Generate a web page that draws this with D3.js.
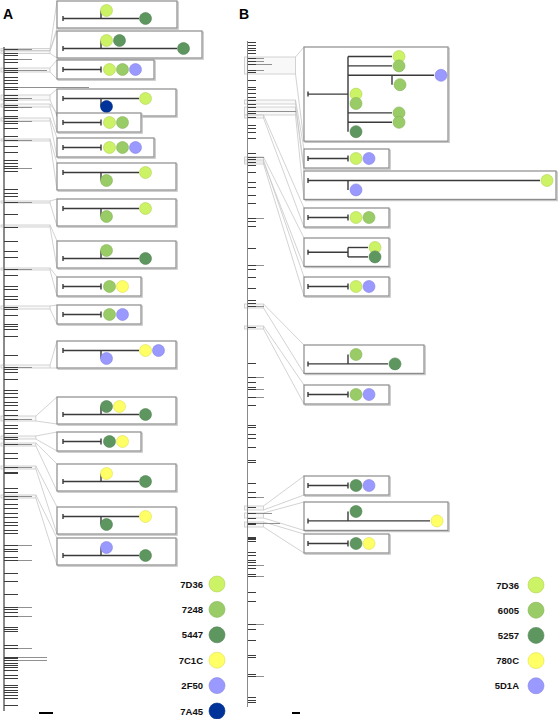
<!DOCTYPE html>
<html><head><meta charset="utf-8">
<script src="https://cdn.jsdelivr.net/npm/d3@7"></script>
<style>body{margin:0;background:#fff} svg{display:block;font-family:"Liberation Sans",Arial,sans-serif}</style>
</head><body><svg id="c" width="560" height="719"></svg>
<script>
// ---------- DATA ----------
const keysA = ['7D36','7248','5447','7C1C','2F50','7A45'];
const paletteA = ['#ccf266','#99cc66','#5e9660','#ffff66','#9999ff','#003399'];
const keysB = ['7D36','6005','5257','780C','5D1A'];
const paletteB = ['#ccf266','#99cc66','#5e9660','#ffff66','#9999ff'];

// tree tips: [leaf position along tree, branch length]
const tipsA = [[2,.04],[6,.02],[8,.02],[12,.04],[15,.02],[21,.02],[23,.06],[25,.02],[30,.02],[33,.02],[36,.02],[40,.12],[42,.02],[48,.02],[51,.04],[53,.02],[58,.02],[60,.04],[63,.02],[69,.02],[71,.02],[74,.04],[76,.02],[81,.02],[89,.02],[93,.04],[99,.02],[105,.02],[113,.02],[116,.02],[119,.02],[121,.04],[124,.02],[142,.02],[146,.02],[149,.02],[155,.04],[167,.02],[180,.02],[194,.02],[204,.02],[210,.02],[222,.04],[228,.02],[239,.02],[242,.02],[249,.02],[252,.02],[260,.02],[262,.02],[268,.02],[277,.02],[279,.02],[282,.02],[289,.02],[308,.02],[320,.04],[322,.02],[325,.02],[332,.02],[343,.02],[346,.02],[350,.02],[355,.02],[358,.02],[363,.02],[368,.02],[372,.04],[378,.02],[381,.02],[386,.02],[390,.02],[392,.02],[397,.04],[406,.02],[411,.02],[420,.04],[425,.02],[426,.02],[441,.02],[445,.02],[449,.04],[452,.02],[457,.02],[461,.02],[466,.02],[470,.02],[475,.02],[478,.02],[483,.02],[486,.02],[498,.04],[502,.02],[504,.02],[510,.02],[513,.04],[526,.02],[534,.02],[547,.02],[560,.04],[562,.02],[565,.02],[569,.04],[580,.02],[582,.02],[584,.02],[598,.02],[601,.04],[610,.06],[611,.02],[613,.06],[616,.02],[618,.02],[620,.02],[623,.02],[628,.02],[631,.02],[638,.02],[640,.02],[643,.02],[645,.02],[648,.02],[651,.02],[658,.02]];
const tipsB = [[1,.01],[4,.01],[7,.01],[9,.01],[12,.01],[17,.02],[20,.02],[23,.03],[29,.02],[31,.01],[39,.01],[46,.01],[48,.01],[52,.01],[56,.01],[59,.01],[63,.01],[66,.01],[70,.06],[72,.01],[76,.01],[84,.01],[87,.01],[91,.01],[97,.01],[112,.01],[116,.02],[118,.01],[121,.01],[124,.01],[131,.01],[141,.01],[146,.01],[154,.01],[162,.01],[177,.02],[180,.01],[185,.01],[207,.01],[224,.02],[228,.01],[236,.01],[247,.01],[259,.01],[262,.01],[265,.02],[286,.01],[322,.01],[336,.02],[341,.01],[346,.01],[348,.02],[356,.02],[364,.01],[384,.01],[386,.01],[393,.01],[397,.01],[406,.01],[419,.01],[421,.01],[442,.01],[451,.01],[456,.02],[466,.01],[472,.03],[477,.01],[482,.04],[483,.01],[496,.01],[497,.01],[498,.01],[500,.01],[511,.01],[514,.01],[519,.01],[521,.01],[524,.02],[527,.01],[533,.01],[535,.02],[551,.01],[560,.01],[583,.02],[588,.01],[599,.01],[614,.01],[616,.01],[633,.01],[635,.02],[656,.01],[659,.01],[661,.01]];

// clade ranges (leaf positions) shown in each inset
const cladesA = [[1.5,3.5],[4,6.5],[21,25],[48,53],[57,60],[71,74],[92,94],[154,156],[178,180],[221,223],[259,262],[318,321],[369,374],[389,392],[396,399],[419,422],[448,451]];
const cladesB = [[16,33],[59,63],[66,74],[74,77],[116,121],[119,123],[263,267],[285,288],[465,469],[472,477],[481,486]];

// inset subtrees (branch lengths relative to stem)
const insetsA = [
 {len:1,kids:[{len:0,cs:['7D36']},{len:1,cs:['5447']}]},
 {len:1,kids:[{len:0,cs:['7D36','5447']},{len:2,cs:['5447']}]},
 {len:1,kids:[{len:0,cs:['7D36','7248','2F50']}]},
 {len:1,kids:[{len:1,cs:['7D36']},{len:0,cs:['7A45']}]},
 {len:1,kids:[{len:0,cs:['7D36','7248']}]},
 {len:1,kids:[{len:0,cs:['7D36','7248','2F50']}]},
 {len:1,kids:[{len:1,cs:['7D36']},{len:0,cs:['7248']}]},
 {len:1,kids:[{len:1,cs:['7D36']},{len:0,cs:['7248']}]},
 {len:1,kids:[{len:0,cs:['7248']},{len:1,cs:['5447']}]},
 {len:1,kids:[{len:0,cs:['7248','7C1C']}]},
 {len:1,kids:[{len:0,cs:['7248','2F50']}]},
 {len:1,kids:[{len:1,cs:['7C1C','2F50']},{len:0,cs:['2F50']}]},
 {len:1,kids:[{len:0,cs:['5447','7C1C']},{len:1,cs:['5447']}]},
 {len:1,kids:[{len:0,cs:['5447','7C1C']}]},
 {len:1,kids:[{len:0,cs:['7C1C']},{len:1,cs:['5447']}]},
 {len:1,kids:[{len:1,cs:['7C1C']},{len:0,cs:['5447']}]},
 {len:1,kids:[{len:0,cs:['2F50']},{len:1,cs:['5447']}]}
];
const insetsB = [
 {len:1,kids:[
   {len:1.1,cs:['7D36']},
   {len:1.1,cs:['6005']},
   {len:1.1,kids:[{len:1.05,cs:['5D1A']},{len:0,cs:['6005']}]},
   {len:0,cs:['7D36']},
   {len:0,cs:['6005']},
   {len:1.1,cs:['6005']},
   {len:1.1,cs:['6005']},
   {len:0,cs:['5257']}]},
 {len:1,kids:[{len:0,cs:['7D36','5D1A']}]},
 {len:1,kids:[{len:4.8,cs:['7D36']},{len:0,cs:['5D1A']}]},
 {len:1,kids:[{len:0,cs:['7D36','6005']}]},
 {len:1,kids:[{len:0.5,cs:['7D36']},{len:0.5,cs:['5257']}]},
 {len:1,kids:[{len:0,cs:['7D36','5D1A']}]},
 {len:1,kids:[{len:0,cs:['6005']},{len:1,cs:['5257']}]},
 {len:1,kids:[{len:0,cs:['6005','5D1A']}]},
 {len:1,kids:[{len:0,cs:['5257','5D1A']}]},
 {len:1,kids:[{len:0,cs:['5257']},{len:2.05,cs:['780C']}]},
 {len:1,kids:[{len:0,cs:['5257','780C']}]}
];

// ---------- LAYOUT ----------
const panels = [
 {label:'A', lx:3, keys:keysA, palette:paletteA, tips:tipsA, clades:cladesA, insets:insetsA,
  xDom:[0,0.12], xRng:[4,89], yDom:[0,664], yRng:[47,711], dark:0.02, bar:0.02, barX:39,
  boxX:57, pad:6, unit:38, rowSp:8, offZeroMulti:5.5, offSingle:8.5, offEnd:6.5,
  boxTop:[1,31,60,89,113,138,163,199,241,277,305,341,397,432,464,507,538],
  boxW:[120,145,97,119,84,97,119,119,119,84,84,119,119,84,119,119,119],
  hl:[.065,.065,.065,.065,.065,.065,.065,.065,.065,.065,.065,.065,.045,.045,.045,.045,.045],
  legTextX:203, legCircX:217, legY0:584, legDy:25.4},
 {label:'B', lx:239, keys:keysB, palette:paletteB, tips:tipsB, clades:cladesB, insets:insetsB,
  xDom:[0,0.06], xRng:[247.5,295.5], yDom:[0,666], yRng:[41,707], dark:0.01, bar:0.01, barX:292,
  boxX:304, pad:4, unit:40, rowSp:9.4, offZeroMulti:8, offSingle:8, offEnd:7,
  boxTop:[47,149,171,208,238,277,345,385,476,502,534],
  boxW:[144,85,252,85,85,85,120,85,85,144,85],
  hl:[.06,.06,.06,.02,.02,.02,.02,.02,.02,.02,.02],
  legTextX:519, legCircX:536, legY0:585, legDy:25.2}
];

const svg = d3.select('#c');
const gBack = svg.append('g'), gTree = svg.append('g').attr('shape-rendering','crispEdges'), gBox = svg.append('g'), gLeg = svg.append('g');

panels.forEach(P => {
  const tx = d3.scaleLinear().domain(P.xDom).range(P.xRng);
  const ty = d3.scaleLinear().domain(P.yDom).range(P.yRng);
  const col = d3.scaleOrdinal().domain(P.keys).range(P.palette);
  const ux = d3.scaleLinear().domain([0,1]).range([0,P.unit]);

  svg.append('text').attr('x',P.lx).attr('y',19).attr('font-size',14).attr('font-weight','bold').text(P.label);

  // tree
  gTree.append('line').attr('x1',tx(0)).attr('x2',tx(0)).attr('y1',ty(P.yDom[0])).attr('y2',ty(P.yDom[1]))
    .attr('stroke','#8a8a8a').attr('stroke-width',1.5);
  P.tips.forEach(([p,l]) => {
    gTree.append('line').attr('x1',tx(0)).attr('x2',tx(Math.min(l,P.dark))).attr('y1',ty(p)).attr('y2',ty(p))
      .attr('stroke','#3c3c3c').attr('stroke-width',1);
    if (l > P.dark) gTree.append('line').attr('x1',tx(P.dark)).attr('x2',tx(l)).attr('y1',ty(p)).attr('y2',ty(p))
      .attr('stroke','#909090').attr('stroke-width',1);
  });
  // scale bar
  gTree.append('line').attr('x1',P.barX).attr('x2',P.barX + tx(P.bar)-tx(0)).attr('y1',713).attr('y2',713)
    .attr('stroke','#000').attr('stroke-width',2);

  // insets
  P.insets.forEach((data, bi) => {
    const root = d3.hierarchy(data, d => d.kids);
    const leaves = root.leaves();
    const n = leaves.length;
    const top = P.boxTop[bi], w = P.boxW[bi], h = 19 + (n-1)*P.rowSp, bx = P.boxX;
    // highlight + connectors
    const c = P.clades[bi], y0 = ty(c[0]), y1 = ty(c[1]), rx = tx(P.hl[bi]);
    gBack.append('rect').attr('x',tx(0)-3).attr('y',y0).attr('width',rx-tx(0)+3).attr('height',Math.max(1,y1-y0))
      .attr('fill','#f2f2f2').attr('fill-opacity',0.5).attr('stroke','#c8c8c8').attr('stroke-width',0.8);
    gBack.append('line').attr('x1',rx).attr('y1',y0).attr('x2',bx).attr('y2',top).attr('stroke','#c8c8c8').attr('stroke-width',0.8);
    gBack.append('line').attr('x1',rx).attr('y1',y1).attr('x2',bx).attr('y2',top+h).attr('stroke','#c8c8c8').attr('stroke-width',0.8);

    const g = gBox.append('g');
    g.append('rect').attr('x',bx+1.2).attr('y',top+1.2).attr('width',w).attr('height',h).attr('fill','none').attr('stroke','#c4c4c4').attr('stroke-width',1.2);
    g.append('rect').attr('x',bx).attr('y',top).attr('width',w).attr('height',h).attr('fill','#fff').attr('stroke','#8c8c8c').attr('stroke-width',1.2);

    const yc = top + h/2;
    leaves.forEach((l,i) => l.py = yc + (i-(n-1)/2)*P.rowSp);
    root.eachAfter(nd => {
      if (!nd.children) return;
      const k = nd.children;
      if (k.length === 1) nd.py = k[0].py;
      else if (k.length === 2 && ((k[0].data.len===0) !== (k[1].data.len===0))) nd.py = k[0].data.len===0 ? k[1].py : k[0].py;
      else nd.py = (k[0].py + k[k.length-1].py)/2;
    });
    const x0 = bx + P.pad;
    root.eachBefore(nd => { nd.px = (nd.parent ? nd.parent.px : x0) + ux(nd.data.len); });

    const ln = (a,b,c2,d) => g.append('line').attr('x1',a).attr('y1',b).attr('x2',c2).attr('y2',d).attr('stroke','#3a3a3a').attr('stroke-width',1.4);
    ln(x0, root.py, root.px, root.py);
    ln(x0, root.py-2.5, x0, root.py+2.5);
    root.each(nd => {
      if (nd.children) {
        const ys = nd.children.map(k => k.py).concat([nd.py]);
        const lo = d3.min(ys), hi = d3.max(ys);
        if (hi - lo > 0.5) ln(nd.px, lo, nd.px, hi);
        else ln(nd.px, nd.py-3, nd.px, nd.py+3);
      }
      if (nd.parent && nd.data.len > 0) ln(nd.parent.px, nd.py, nd.px, nd.py);
    });
    leaves.forEach(l => {
      let off = P.offEnd;
      if (l.data.len === 0) off = (l.parent && l.parent.children.length > 1) ? P.offZeroMulti : P.offSingle;
      l.data.cs.forEach((k, j) => {
        const f = col(k);
        g.append('circle').attr('cx', l.px + off + j*13).attr('cy', l.py).attr('r', 6)
          .attr('fill', f).attr('stroke', d3.color(f).darker(0.4)).attr('stroke-width', 0.6);
      });
    });
  });

  // legend
  P.keys.forEach((k,i) => {
    const y = P.legY0 + i*P.legDy;
    gLeg.append('text').attr('x',P.legTextX).attr('y',y+3.5).attr('text-anchor','end')
      .attr('font-size',9.5).attr('font-weight','bold').attr('fill','#111').text(k);
    const f = col(k);
    gLeg.append('circle').attr('cx',P.legCircX).attr('cy',y).attr('r',8)
      .attr('fill',f).attr('stroke',d3.color(f).darker(0.4)).attr('stroke-width',0.6);
  });
});
</script></body></html>
